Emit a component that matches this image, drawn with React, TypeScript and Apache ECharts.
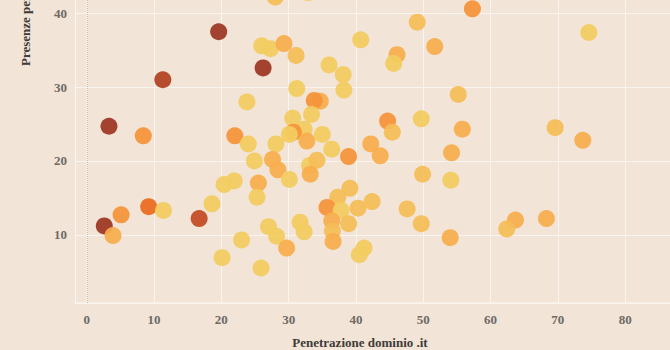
import React, { useEffect, useRef } from "react";
import * as echarts from "echarts";

// x: Penetrazione dominio .it, y: Presenze, lvl: colour level (0 = yellow ... 7 = dark red)
const xs = [19.6, 26.0, 26.2, 11.3, 23.8, 3.3, 8.4, 22.0, 24.0, 24.9, 25.5, 20.4, 21.9, 25.3, 18.6, 2.6, 3.9, 5.1, 9.2, 11.4, 16.7, 23.0, 20.1, 25.9, 27.0, 28.0, 32.9, 27.3, 29.3, 31.1, 36.0, 38.1, 38.2, 40.7, 49.1, 51.7, 46.1, 45.6, 31.2, 34.7, 33.8, 33.4, 30.6, 32.3, 30.7, 30.1, 32.7, 35.0, 28.1, 36.4, 38.9, 42.2, 43.6, 44.7, 45.4, 49.7, 27.6, 28.4, 30.1, 33.1, 34.2, 33.2, 39.1, 37.3, 35.7, 37.8, 40.3, 42.4, 36.4, 38.9, 36.5, 36.6, 31.7, 32.3, 28.2, 29.7, 41.2, 40.5, 47.6, 49.7, 49.9, 54.1, 54.2, 54.0, 63.7, 62.4, 68.3, 73.7, 57.3, 74.6, 55.2, 55.8, 69.6];
const ys = [37.5, 35.6, 32.6, 31.0, 28.0, 24.7, 23.4, 23.4, 22.3, 20.0, 17.0, 16.8, 17.3, 15.1, 14.2, 11.2, 9.9, 12.7, 13.8, 13.3, 12.2, 9.3, 6.9, 5.5, 11.1, 42.2, 42.8, 35.2, 35.9, 34.3, 33.0, 31.7, 29.6, 36.4, 38.8, 35.5, 34.4, 33.2, 29.8, 28.1, 28.2, 26.3, 25.8, 24.3, 23.9, 23.6, 22.7, 23.6, 22.3, 21.6, 20.6, 22.3, 20.7, 25.4, 23.9, 25.7, 20.2, 18.8, 17.5, 19.4, 20.1, 18.2, 16.3, 15.1, 13.7, 13.3, 13.6, 14.5, 11.9, 11.5, 10.5, 9.1, 11.7, 10.4, 9.8, 8.2, 8.2, 7.3, 13.5, 11.5, 18.2, 17.4, 21.1, 9.6, 12.0, 10.8, 12.2, 22.8, 40.6, 37.4, 29.0, 24.3, 24.5];
const lvls = [7, 0, 7, 6, 0, 7, 3, 3, 0, 0, 2, 0, 0, 0, 0, 7, 2, 3, 4, 0, 5, 0, 0, 0, 0, 1, 0, 0, 2, 1, 0, 0, 0, 0, 1, 2, 2, 0, 0, 2, 3, 0, 0, 0, 3, 0, 2, 0, 0, 0, 3, 2, 2, 3, 1, 0, 2, 2, 0, 0, 1, 2, 1, 1, 3, 0, 1, 1, 2, 1, 1, 2, 0, 0, 0, 2, 0, 0, 1, 1, 1, 0, 2, 2, 2, 1, 2, 2, 3, 0, 1, 2, 1];
const palette = ["#F3CC60", "#F5BD57", "#F7AD4C", "#F5933A", "#EB6B1E", "#C44A22", "#B2421F", "#9C3622"];

const xTitle = "Penetrazione dominio .it";
const yTitle = "Presenze per 1000 abitanti";

const BG = "#F2E4D6";
const GRID = "#FAF4EE";

export default function App() {
  const ref = useRef<HTMLDivElement>(null);
  useEffect(() => {
    const chart = echarts.init(ref.current!, null, { renderer: "svg" });
    const data = xs.map((x, i) => [x, ys[i], lvls[i]]);
    const labelStyle = {
      fontFamily: "Liberation Serif",
      fontWeight: "bold" as const,
      fontSize: 13,
      color: "#6e6a66",
    };
    chart.setOption({
      animation: false,
      backgroundColor: BG,
      grid: {
        left: 75,
        top: -31,
        width: 604,
        height: 334,
        containLabel: false,
        outerBoundsMode: "none",
      },
      xAxis: {
        type: "value",
        min: -1.75,
        max: 88,
        splitNumber: 9,
        axisLine: { show: true, lineStyle: { color: GRID, width: 1.5 } },
        axisTick: { show: false },
        splitLine: {
          lineStyle: {
            color: [GRID, "rgba(0,0,0,0)", GRID, GRID, GRID, GRID, GRID, GRID, GRID, GRID, GRID, GRID],
            width: 1,
          },
        },
        axisLabel: {
          ...labelStyle,
          margin: 10,
          formatter: (v: number) => (Math.abs(v % 10) < 1e-6 ? String(v) : ""),
        },
      },
      yAxis: {
        type: "value",
        min: 0.76,
        max: 46,
        splitNumber: 5,
        axisLine: { show: true, lineStyle: { color: GRID, width: 1.5 } },
        axisTick: { show: false },
        splitLine: { lineStyle: { color: GRID, width: 1 } },
        axisLabel: {
          ...labelStyle,
          margin: 8,
          formatter: (v: number) => (Math.abs(v % 10) < 1e-6 ? String(v) : ""),
        },
      },
      graphic: [
        {
          type: "text",
          x: 360,
          y: 342,
          style: {
            text: xTitle,
            fontFamily: "Liberation Serif",
            fontWeight: "bold",
            fontSize: 13,
            fill: "#3f3b38",
            align: "center",
            verticalAlign: "middle",
          },
        },
        {
          type: "text",
          x: 25,
          y: 66,
          rotation: Math.PI / 2,
          style: {
            text: yTitle,
            fontFamily: "Liberation Serif",
            fontWeight: "bold",
            fontSize: 13,
            fill: "#3f3b38",
            align: "left",
            verticalAlign: "middle",
          },
        },
      ],
      series: [
        {
          type: "scatter",
          data,
          symbolSize: 17,
          itemStyle: {
            color: (p: any) => palette[p.data[2]],
            opacity: 0.93,
          },
          markLine: {
            silent: true,
            symbol: "none",
            label: { show: false },
            lineStyle: { color: "#c4bab0", type: "dotted", width: 1 },
            data: [{ xAxis: 0 }],
          },
        },
      ],
    });
    return () => chart.dispose();
  }, []);
  return (
    <div
      ref={ref}
      style={{ position: "absolute", left: 0, top: 0, width: 670, height: 350 }}
    />
  );
}
